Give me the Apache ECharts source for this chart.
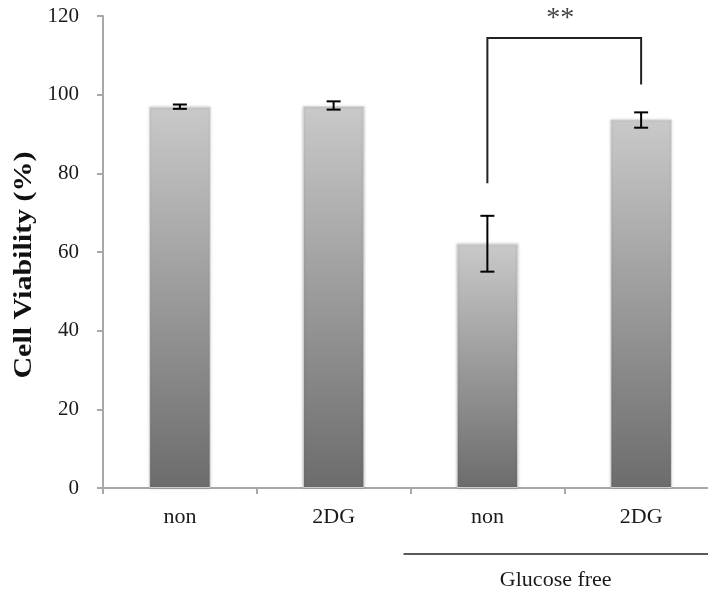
<!DOCTYPE html>
<html>
<head>
<meta charset="utf-8">
<script src="https://cdn.jsdelivr.net/npm/echarts@6/dist/echarts.min.js"></script>
<style>
html,body{margin:0;padding:0;background:#fff;}
#chart{width:708px;height:595px;}
</style>
</head>
<body>
<div id="chart"></div>
<script>
// ---- data ----
var categories = ['non', '2DG', 'non', '2DG'];
var viability = [96.9, 97.1, 62.1, 93.7];
var errLow = [96.4, 96.2, 55.0, 91.6];
var errHigh = [97.5, 98.3, 69.2, 95.5];
var yTicks = [0, 20, 40, 60, 80, 100, 120];
var yTitle = 'Cell Viability (%)';
// significance bracket: [fromIndex, toIndex, topValue, leftEndValue, rightEndValue]
var bracket = [2, 3, 114.4, 77.5, 102.6];
var bracketLabel = '**';
// group label under categories
var groupLabel = 'Glucose free';
var groupRange = [2, 3];

var serif = '"Liberation Serif", "Times New Roman", serif';

var chart = echarts.init(document.getElementById('chart'), null, {renderer: 'canvas'});

var option = {
  animation: false,
  backgroundColor: '#fff',
  grid: {left: 103, top: 16, width: 615, height: 472, containLabel: false, outerBoundsMode: 'none'},
  graphic: [
    {
      type: 'text',
      x: 25, y: 265,
      rotation: Math.PI / 2,
      scaleX: 1.2,
      style: {text: yTitle, fontFamily: serif, fontSize: 25, fontWeight: 'bold', fill: '#111',
              align: 'center', verticalAlign: 'middle'}
    }
  ],
  xAxis: {
    type: 'category',
    data: categories,
    boundaryGap: true,
    axisLine: {show: true, lineStyle: {color: '#a8a8a8', width: 2}},
    axisTick: {show: true, length: 6, alignWithLabel: false, lineStyle: {color: '#a8a8a8', width: 2}},
    axisLabel: {fontFamily: serif, fontSize: 22, color: '#1a1a1a', margin: 18}
  },
  yAxis: {
    type: 'value',
    min: yTicks[0],
    max: yTicks[yTicks.length - 1],
    interval: yTicks[1] - yTicks[0],
    axisLine: {show: true, lineStyle: {color: '#a8a8a8', width: 2}},
    axisTick: {show: true, length: 6, lineStyle: {color: '#a8a8a8', width: 2}},
    splitLine: {show: false},
    axisLabel: {fontFamily: serif, fontSize: 21, color: '#1a1a1a', margin: 24}
  },
  series: [
    {
      type: 'bar',
      data: viability,
      barWidth: '40%',
      itemStyle: {
        color: new echarts.graphic.LinearGradient(0, 0, 0, 1, [
          {offset: 0, color: '#c9c9c9'},
          {offset: 1, color: '#6c6c6c'}
        ]),
        borderColor: 'rgba(215,215,215,0.9)',
        borderWidth: 1,
        shadowColor: 'rgba(0,0,0,0.18)',
        shadowBlur: 3
      },
      z: 2
    },
    {
      type: 'custom',
      z: 5,
      data: categories.map(function (c, i) { return [i, errLow[i], errHigh[i]]; }),
      renderItem: function (params, api) {
        var x = api.value(0);
        var lo = api.coord([x, api.value(1)]);
        var hi = api.coord([x, api.value(2)]);
        var hw = 7;
        var st = {stroke: '#000', lineWidth: 2};
        return {
          type: 'group',
          children: [
            {type: 'line', shape: {x1: lo[0], y1: lo[1], x2: hi[0], y2: hi[1]}, style: st},
            {type: 'line', shape: {x1: lo[0] - hw, y1: lo[1], x2: lo[0] + hw, y2: lo[1]}, style: st},
            {type: 'line', shape: {x1: hi[0] - hw, y1: hi[1], x2: hi[0] + hw, y2: hi[1]}, style: st}
          ]
        };
      }
    },
    {
      type: 'custom',
      z: 6,
      clip: false,
      data: [bracket],
      renderItem: function (params, api) {
        var a = api.value(0), b = api.value(1);
        var top = api.value(2), le = api.value(3), re = api.value(4);
        var p1 = api.coord([a, le]);
        var p2 = api.coord([a, top]);
        var p3 = api.coord([b, top]);
        var p4 = api.coord([b, re]);
        return {
          type: 'group',
          children: [
            {type: 'polyline', shape: {points: [p1, p2, p3, p4]},
             style: {stroke: '#222', lineWidth: 2, fill: null}},
            {type: 'text', x: (p2[0] + p3[0]) / 2 - 4, y: p2[1] - 19,
             style: {text: bracketLabel, fontFamily: serif, fontSize: 28, fill: '#444',
                     align: 'center', verticalAlign: 'middle'}}
          ]
        };
      }
    },
    {
      type: 'custom',
      z: 6,
      clip: false,
      data: [groupRange],
      renderItem: function (params, api) {
        var a = api.value(0), b = api.value(1);
        var band = api.size([1, 0])[0];
        var pa = api.coord([a, 0]);
        var pb = api.coord([b, 0]);
        var x1 = pa[0] - band / 2 - 7;
        var x2 = pb[0] + band / 2;
        var y = pa[1] + 66;
        var visibleRight = Math.min(x2, 708);
        return {
          type: 'group',
          children: [
            {type: 'line', shape: {x1: x1, y1: y, x2: x2, y2: y},
             style: {stroke: '#222', lineWidth: 1.5}},
            {type: 'text', x: (x1 + visibleRight) / 2, y: y + 26,
             style: {text: groupLabel, fontFamily: serif, fontSize: 22, fill: '#1a1a1a',
                     align: 'center', verticalAlign: 'middle'}}
          ]
        };
      }
    }
  ]
};
chart.setOption(option);
</script>
</body>
</html>
